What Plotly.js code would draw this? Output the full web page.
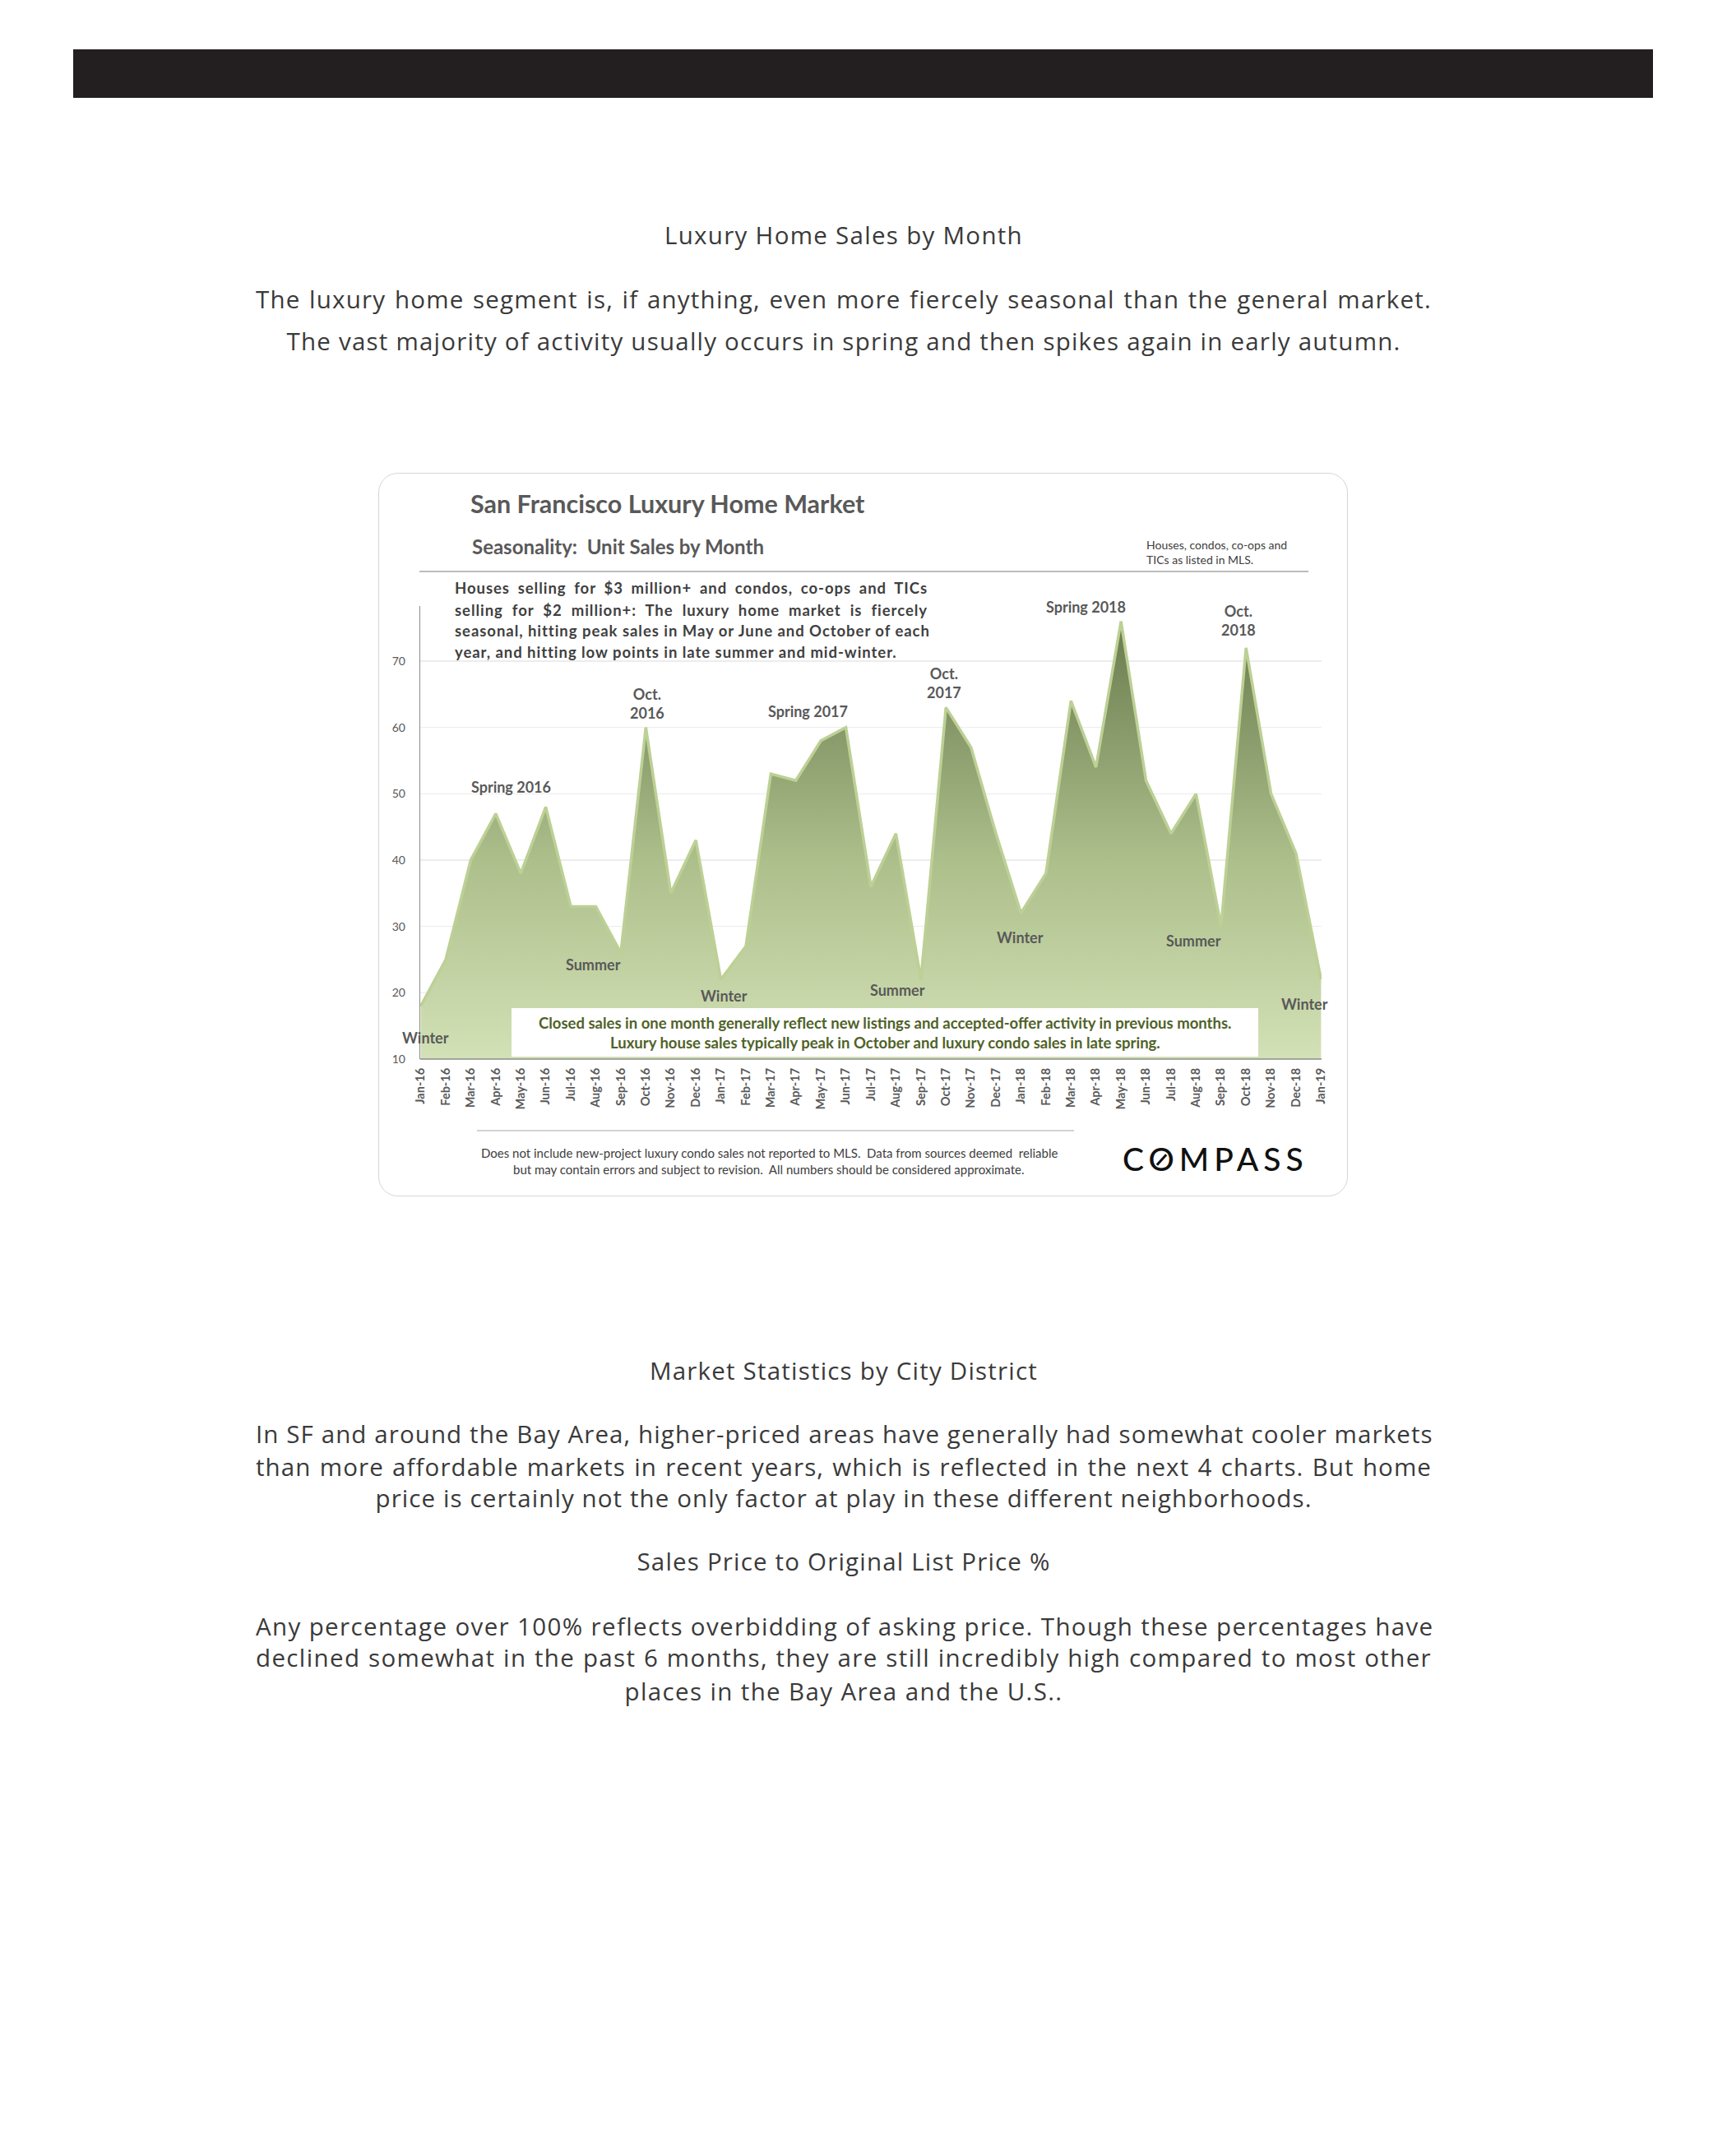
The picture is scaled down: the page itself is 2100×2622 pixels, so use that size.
<!DOCTYPE html>
<html>
<head>
<meta charset="utf-8">
<script src="https://cdn.plot.ly/plotly-3.0.1.min.js"></script>
<style>
  html, body { margin:0; padding:0; background:#ffffff; }
  body { width:2100px; height:2622px; position:relative; overflow:hidden; font-family:'Open Sans', 'Noto Sans', sans-serif; }
  .bar { position:absolute; left:89px; top:60px; width:1921px; height:59px; background:#231f20; }
  .ln { position:absolute; left:311px; width:1430px; white-space:nowrap; color:#3a3a3a; font-weight:400; font-size:29.5px; line-height:40px; font-family:'Open Sans', sans-serif; }
  .c { text-align:center; }
  .j { text-align:justify; text-align-last:justify; }
  .box { position:absolute; left:460px; top:575px; width:1177px; height:878px; border:1.5px solid #d6d6d6; border-radius:24px; background:#fff; }
  #chart { position:absolute; left:460px; top:575px; width:1179px; height:880px; }
  .desc { position:absolute; left:553px; width:575px; white-space:nowrap; font-family:'Lato', sans-serif; font-weight:700; font-size:18.5px; color:#404040; line-height:26px; }
  .logo { position:absolute; left:1365px; top:1385px; font-family:'Lato', sans-serif; font-size:39px; line-height:48px; font-weight:500; letter-spacing:6px; color:#111; white-space:nowrap; }
  .slash { position:absolute; width:3px; height:17px; background:#111; transform:rotate(42deg); }
</style>
</head>
<body>
<div class="bar"></div>

<div class="ln c" data-g="h1" data-w="436" style="top:266px;"><span>Luxury Home Sales by Month</span></div>
<div class="ln j" data-g="p1" style="top:344px;"><span>The luxury home segment is, if anything, even more fiercely seasonal than the general market.</span></div>
<div class="ln c" data-g="p1" data-w="1355" style="top:395px;"><span>The vast majority of activity usually occurs in spring and then spikes again in early autumn.</span></div>

<div class="box"></div>
<div id="chart"></div>

<div class="desc j" data-g="desc" style="top:702px;"><span>Houses selling for $3 million+ and condos, co-ops and TICs</span></div>
<div class="desc j" data-g="desc" style="top:729px;"><span>selling for $2 million+: The luxury home market is fiercely</span></div>
<div class="desc j" data-g="desc" style="top:754px;"><span>seasonal, hitting peak sales in May or June and October of each</span></div>
<div class="desc" data-g="desc" data-w="537" style="top:780px;"><span>year, and hitting low points in late summer and mid-winter.</span></div>

<div class="logo"><span>C</span><span id="logoO">O</span><span>MPASS</span></div>
<div class="slash" id="slash"></div>

<div class="ln c" data-g="h2" data-w="472" style="top:1647px;"><span>Market Statistics by City District</span></div>
<div class="ln j" data-g="p2" style="top:1724px;"><span>In SF and around the Bay Area, higher-priced areas have generally had somewhat cooler markets</span></div>
<div class="ln j" data-g="p2" style="top:1764px;"><span>than more affordable markets in recent years, which is reflected in the next 4 charts. But home</span></div>
<div class="ln c" data-g="p2" data-w="1139" style="top:1802px;"><span>price is certainly not the only factor at play in these different neighborhoods.</span></div>
<div class="ln c" data-g="h3" data-w="503" style="top:1879px;"><span>Sales Price to Original List Price %</span></div>
<div class="ln j" data-g="p3" style="top:1958px;"><span>Any percentage over 100% reflects overbidding of asking price. Though these percentages have</span></div>
<div class="ln j" data-g="p3" style="top:1996px;"><span>declined somewhat in the past 6 months, they are still incredibly high compared to most other</span></div>
<div class="ln c" data-g="p3" data-w="533" style="top:2037px;"><span>places in the Bay Area and the U.S..</span></div>

<script>
// ---- data ----
const months = ['Jan-16','Feb-16','Mar-16','Apr-16','May-16','Jun-16','Jul-16','Aug-16','Sep-16','Oct-16','Nov-16','Dec-16',
                'Jan-17','Feb-17','Mar-17','Apr-17','May-17','Jun-17','Jul-17','Aug-17','Sep-17','Oct-17','Nov-17','Dec-17',
                'Jan-18','Feb-18','Mar-18','Apr-18','May-18','Jun-18','Jul-18','Aug-18','Sep-18','Oct-18','Nov-18','Dec-18',
                'Jan-19'];
const unitSales = [18,25,40,47,38,48,33,33,26,60,35,43,
                   22,27,53,52,58,60,36,44,22,63,57,44,
                   32,38,64,54,76,52,44,50,30,72,50,41,
                   22];
const yTicks = [10,20,30,40,50,60,70];
const peakLabels = ['Spring 2016','Oct.<br>2016','Spring 2017','Oct.<br>2017','Spring 2018','Oct.<br>2018'];
const lowLabels = ['Winter','Summer','Winter','Summer','Winter','Summer','Winter'];

// ---- letter-spacing fit for page text (typography only) ----
(function fitText(){
  const groups = {};
  document.querySelectorAll('[data-g]').forEach(el => {
    const g = el.dataset.g; (groups[g] = groups[g] || []).push(el);
  });
  Object.values(groups).forEach(els => {
    const ref = els.find(e => e.dataset.w);
    if (!ref) return;
    const span = ref.querySelector('span');
    const nat = span.getBoundingClientRect().width;
    const n = span.textContent.length;
    const ls = (parseFloat(ref.dataset.w) - nat) / n;
    els.forEach(e => e.style.letterSpacing = ls.toFixed(3) + 'px');
  });
  const o = document.getElementById('logoO').getBoundingClientRect();
  const s = document.getElementById('slash');
  s.style.left = (o.left + (o.width - 6) / 2 - 1.5) + 'px';
  s.style.top = (o.top + o.height / 2 + 1 - 8.5) + 'px';
})();

// ---- layout helpers (page pixel -> paper coords) ----
const PX0 = 511, PX1 = 1607, PY0 = 1288, PY1 = 737;
const px = X => (X - PX0) / (PX1 - PX0);
const py = Y => (PY0 - Y) / (PY0 - PY1);

const labelFont = {family:'Lato', size:18, color:'#595959', weight:700};
// positions of season labels, in (month index, value)
const peakPos = [[3.6,51],[9.05,63.6],[15.47,62.4],[20.93,66.7],[26.59,78.2],[32.7,76.1]];
const lowPos  = [[0.19,13.2],[6.9,24.2],[12.14,19.5],[19.07,20.4],[23.98,28.3],[30.9,27.9],[35.33,18.3]];

const annotations = [];
peakLabels.forEach((t,i) => annotations.push({x:peakPos[i][0], y:peakPos[i][1], xref:'x', yref:'y', text:t, showarrow:false,
  font:labelFont, xanchor:'center', yanchor:'middle', align:'center'}));
lowLabels.forEach((t,i) => annotations.push({x:lowPos[i][0], y:lowPos[i][1], xref:'x', yref:'y', text:t, showarrow:false,
  font:labelFont, xanchor:'center', yanchor:'middle'}));

// note box inside plot
const boxFont = {family:'Lato', size:18.5, color:'#4f6228', weight:700};
annotations.push({xref:'paper', yref:'paper', x:px(1076), y:py(1244), text:'Closed sales in one month generally reflect new listings and accepted-offer activity in previous months.',
  showarrow:false, xanchor:'center', yanchor:'middle', font:boxFont});
annotations.push({xref:'paper', yref:'paper', x:px(1076), y:py(1268), text:'Luxury house sales typically peak in October and luxury condo sales in late spring.',
  showarrow:false, xanchor:'center', yanchor:'middle', font:boxFont});

// subtitle and top-right note
annotations.push({xref:'paper', yref:'paper', x:px(572), y:py(664), text:'Seasonality:\u00a0 Unit Sales by Month', showarrow:false,
  xanchor:'left', yanchor:'middle', font:{family:'Lato', size:24, color:'#595959', weight:700}});
annotations.push({xref:'paper', yref:'paper', x:px(1392), y:py(662), text:'Houses, condos, co-ops and', showarrow:false,
  xanchor:'left', yanchor:'middle', font:{family:'Lato', size:14, color:'#404040'}});
annotations.push({xref:'paper', yref:'paper', x:px(1392), y:py(681), text:'TICs as listed in MLS.', showarrow:false,
  xanchor:'left', yanchor:'middle', font:{family:'Lato', size:14, color:'#404040'}});

// footer
const footFont = {family:'Lato', size:15, color:'#404040'};
annotations.push({xref:'paper', yref:'paper', x:px(935), y:py(1402), text:'Does not include new-project luxury condo sales not reported to MLS.\u00a0 Data from sources deemed\u00a0 reliable', showarrow:false,
  xanchor:'center', yanchor:'middle', font:footFont});
annotations.push({xref:'paper', yref:'paper', x:px(935), y:py(1422), text:'but may contain errors and subject to revision.\u00a0 All numbers should be considered approximate.', showarrow:false,
  xanchor:'center', yanchor:'middle', font:footFont});

const shapes = [
  {type:'rect', xref:'paper', yref:'paper', x0:px(622), x1:px(1530), y0:py(1285), y1:py(1226), fillcolor:'#ffffff', line:{width:0}, layer:'above'},
  {type:'line', xref:'paper', yref:'paper', x0:px(510), x1:px(1591), y0:py(695), y1:py(695), line:{color:'#a6a6a6', width:1.5}},
  {type:'line', xref:'paper', yref:'paper', x0:px(580), x1:px(1306), y0:py(1375), y1:py(1375), line:{color:'#a6a6a6', width:1.2}},
  {type:'line', xref:'paper', yref:'paper', x0:0, x1:1, y0:0, y1:0, line:{color:'#8c8c8c', width:1.5}, layer:'above'}
];

const trace = {
  type:'scatter', mode:'lines', x:months, y:unitSales,
  line:{color:'#bdd095', width:3.5},
  fill:'tozeroy',
  fillgradient:{type:'vertical', start:10, stop:76, colorscale:[[0,'#d3e1b6'],[0.45,'#adbf8b'],[1,'#6a7b4e']]},
  hoverinfo:'skip', showlegend:false
};

const layout = {
  width:1179, height:880,
  margin:{l:PX0-460, r:1639-PX1, t:PY1-575, b:1455-PY0, autoexpand:false},
  paper_bgcolor:'rgba(0,0,0,0)', plot_bgcolor:'rgba(0,0,0,0)',
  font:{family:'Lato', color:'#595959'},
  title:{text:'San Francisco Luxury Home Market', xref:'container', yref:'container', x:(572-460)/1179, y:1-(613-575)/880,
         xanchor:'left', yanchor:'middle', font:{family:'Lato', size:30.5, color:'#595959', weight:700}},
  xaxis:{type:'category', range:[-0.02,36.02], showgrid:false, zeroline:false, showline:false,
         tickangle:-90, tickfont:{family:'Lato', size:14.5, color:'#595959', weight:700}, ticks:'', ticklabelstandoff:7,
         title:{text:''}},
  yaxis:{range:[10,78.3], tickvals:yTicks, showgrid:true, gridcolor:'#ececec', gridwidth:1.2, zeroline:false,
         showline:true, linecolor:'#8c8c8c', linewidth:1.2, ticks:'', ticklabelstandoff:14,
         tickfont:{family:'Lato', size:14, color:'#595959'}, title:{text:''}},
  shapes:shapes,
  annotations:annotations
};

Plotly.newPlot('chart', [trace], layout, {displayModeBar:false, staticPlot:true});
</script>
</body>
</html>
